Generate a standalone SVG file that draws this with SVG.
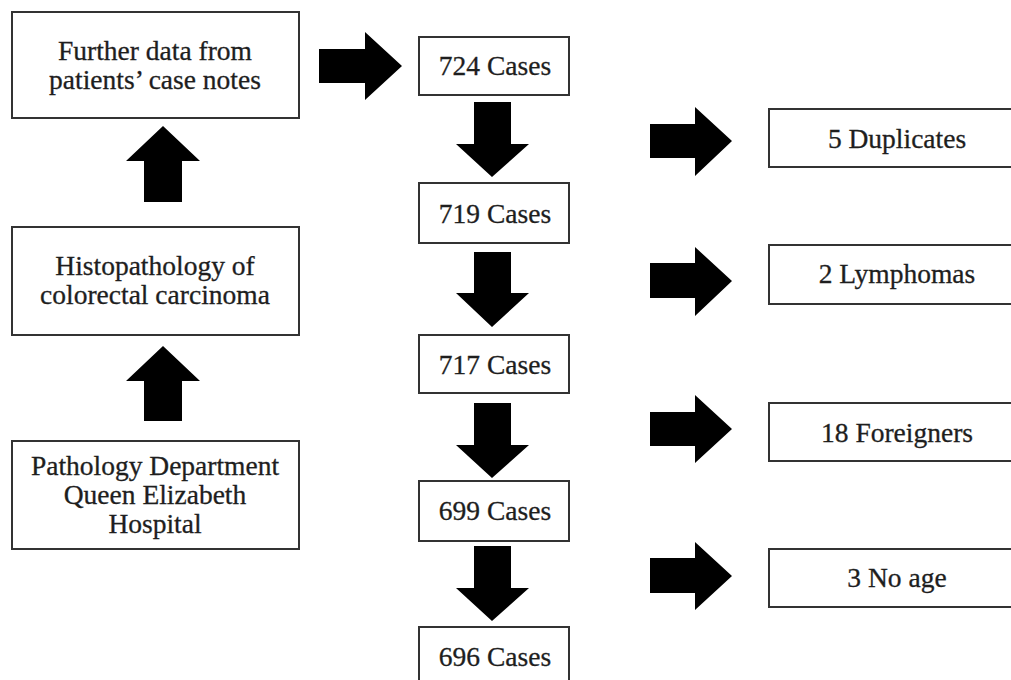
<svg xmlns="http://www.w3.org/2000/svg" width="1011" height="680" viewBox="0 0 1011 680">
<style>
.box{fill:#fff;stroke:#333;stroke-width:2}
.t{font-family:'Liberation Serif','Times New Roman',serif;font-size:27.5px;fill:#1e1e1e;stroke:#1e1e1e;stroke-width:0.3;text-anchor:middle}
.arr{fill:#000}
</style>
<rect width="1011" height="680" fill="#fff"/>
<g id="connectors">
<polygon class="arr" points="319,49 365,49 365,32 402,66 365,100 365,83 319,83"/>
<polygon class="arr" points="144,202 144,161 126,161 163,126 200,161 182,161 182,202"/>
<polygon class="arr" points="144,421 144,381 126,381 163,346 200,381 182,381 182,421"/>
<polygon class="arr" points="474,102 511,102 511,144 529,144 492,177 456,144 474,144"/>
<polygon class="arr" points="474,252 511,252 511,293 529,293 492,327 456,293 474,293"/>
<polygon class="arr" points="474,403 511,403 511,445 529,445 492,478 456,445 474,445"/>
<polygon class="arr" points="474,546 511,546 511,588 529,588 492,621 456,588 474,588"/>
<polygon class="arr" points="650,124 695,124 695,107 732,141 695,176 695,158 650,158"/>
<polygon class="arr" points="650,263 695,263 695,247 732,281 695,316 695,298 650,298"/>
<polygon class="arr" points="650,412 695,412 695,395 732,429 695,463 695,446 650,446"/>
<polygon class="arr" points="650,558 695,558 695,542 732,576 695,610 695,593 650,593"/>
</g>
<g id="further">
<rect class="box" x="12" y="12" width="287" height="106"/>
<text class="t" x="155" y="60">Further data from</text>
<text class="t" x="155" y="89">patients’ case notes</text>
</g>
<g id="histo">
<rect class="box" x="12" y="227" width="287" height="108"/>
<text class="t" x="155" y="275">Histopathology of</text>
<text class="t" x="155" y="304">colorectal carcinoma</text>
</g>
<g id="pathology">
<rect class="box" x="12" y="441" width="287" height="108"/>
<text class="t" x="155" y="475">Pathology Department</text>
<text class="t" x="155" y="504">Queen Elizabeth</text>
<text class="t" x="155" y="533">Hospital</text>
</g>
<g id="c724">
<rect class="box" x="419" y="37" width="150" height="58"/>
<text class="t" x="495" y="75">724 Cases</text>
</g>
<g id="c719">
<rect class="box" x="419" y="183" width="150" height="60"/>
<text class="t" x="495" y="223">719 Cases</text>
</g>
<g id="c717">
<rect class="box" x="419" y="335" width="150" height="58"/>
<text class="t" x="495" y="374">717 Cases</text>
</g>
<g id="c699">
<rect class="box" x="419" y="481" width="150" height="60"/>
<text class="t" x="495" y="520">699 Cases</text>
</g>
<g id="c696">
<rect class="box" x="419" y="627" width="150" height="70"/>
<text class="t" x="495" y="666">696 Cases</text>
</g>
<g id="dup">
<rect class="box" x="769" y="109" width="260" height="58"/>
<text class="t" x="897" y="148">5 Duplicates</text>
</g>
<g id="lym">
<rect class="box" x="769" y="245" width="260" height="59"/>
<text class="t" x="897" y="283">2 Lymphomas</text>
</g>
<g id="for">
<rect class="box" x="769" y="403" width="260" height="58"/>
<text class="t" x="897" y="442">18 Foreigners</text>
</g>
<g id="noage">
<rect class="box" x="769" y="549" width="260" height="58"/>
<text class="t" x="897" y="587">3 No age</text>
</g>
</svg>
